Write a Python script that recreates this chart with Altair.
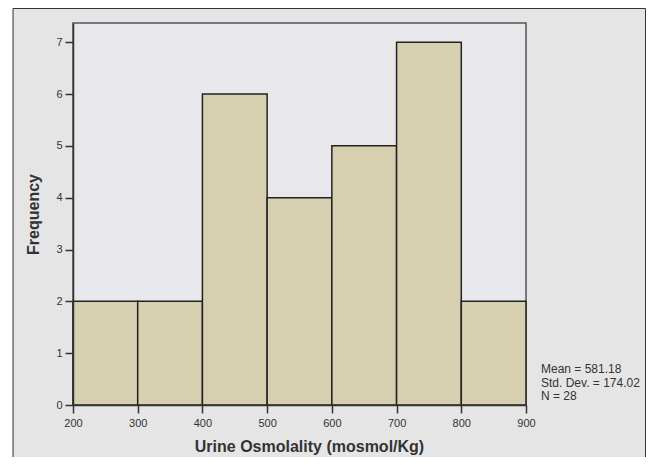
import altair as alt
import pandas as pd

bin_start = [200, 300, 400, 500, 600, 700, 800]
bin_end = [300, 400, 500, 600, 700, 800, 900]
frequency = [2, 2, 6, 4, 5, 7, 2]
x_ticks = [200, 300, 400, 500, 600, 700, 800, 900]
y_ticks = [0, 1, 2, 3, 4, 5, 6, 7]
stats_text = ["Mean = 581.18", "Std. Dev. = 174.02", "N = 28"]

FONT = "Liberation Sans"
W, H = 453, 382

bars_df = pd.DataFrame({"start": bin_start, "end": bin_end, "freq": frequency,
                        "base": [0] * len(frequency)})
one = pd.DataFrame({"a": [0]})
stats_df = pd.DataFrame({"t": ["\n".join(stats_text)]})

xscale = alt.Scale(domain=[200, 900], nice=False, zero=False)
yscale = alt.Scale(domain=[0, 7.37], nice=False, zero=True)

axis_common = dict(
    zindex=1, grid=False, labelFlush=False, labelOverlap=False,
    domainColor="#333333", domainWidth=1.5,
    tickColor="#333333", tickSize=8, tickWidth=1.5,
    labelFont=FONT, labelFontSize=11, labelColor="#333333",
    titleFont=FONT, titleFontSize=16, titleFontWeight="bold", titleColor="#333333",
)

outer = alt.Chart(one).mark_rect(
    fill="#e5e5e5", stroke="#333333", strokeWidth=1
).encode(
    x=alt.value(-60), x2=alt.value(572.5), y=alt.value(-14.5), y2=alt.value(480)
)

inner = alt.Chart(one).mark_rect(
    fill="#e8e8ec", stroke="#555555", strokeWidth=1.5
).encode(
    x=alt.value(0), x2=alt.value(W), y=alt.value(0), y2=alt.value(H)
)

bars = alt.Chart(bars_df).mark_bar(
    fill="#d6d0b0", stroke="#222222", strokeWidth=1.5
).encode(
    x=alt.X("start:Q", scale=xscale,
            axis=alt.Axis(values=x_ticks, title="Urine Osmolality (mosmol/Kg)",
                          titleX=236, labelPadding=4, titlePadding=10,
                          **axis_common)),
    x2="end:Q",
    y=alt.Y("freq:Q", scale=yscale,
            axis=alt.Axis(values=y_ticks, format="d", title="Frequency",
                          labelPadding=3, titlePadding=14, **axis_common)),
    y2="base:Q",
)

stats = alt.Chart(stats_df).mark_text(
    align="left", baseline="alphabetic", font=FONT, fontSize=12,
    color="#333333", lineBreak="\n", lineHeight=13.5
).encode(
    x=alt.value(468), y=alt.value(350), text="t:N"
)

chart = alt.layer(outer, inner, bars, stats).properties(
    width=W, height=H,
    autosize=alt.AutoSizeParams(type="none"),
    padding={"left": 65, "top": 15, "right": 120, "bottom": 52},
    background="white",
).configure_view(
    stroke=None
)

chart.save("out.html", embed_options={"renderer": "svg", "actions": False})
